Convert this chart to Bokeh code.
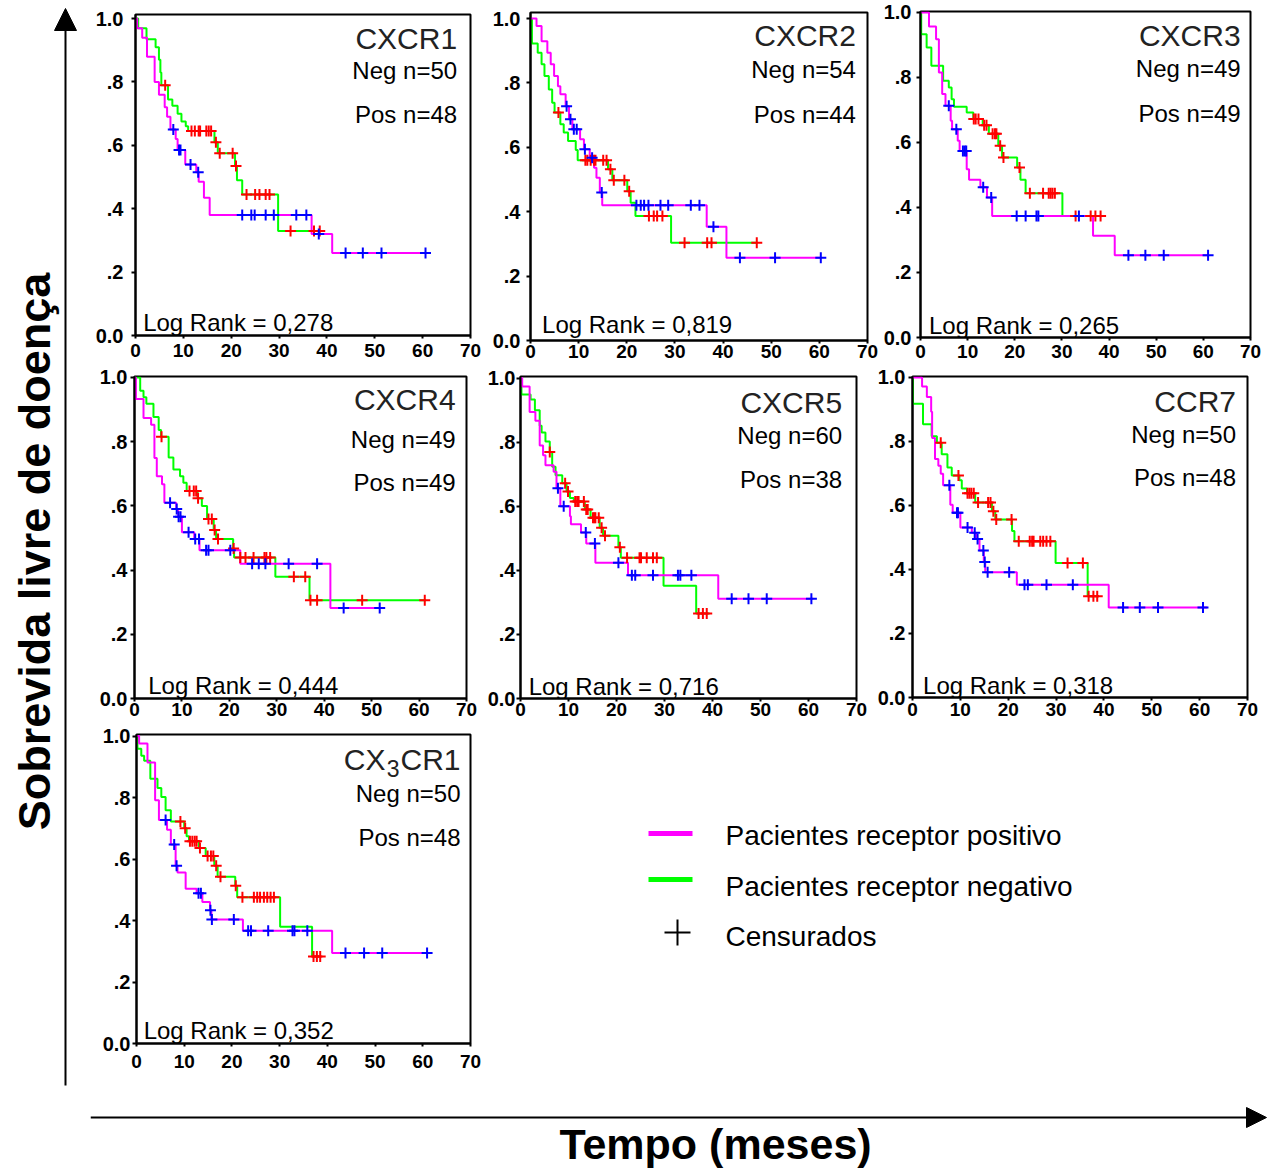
import numpy as np
from bokeh.plotting import figure
from bokeh.layouts import row, column
from bokeh.models import Range1d, FixedTicker, Label, Arrow, NormalHead
from bokeh.embed import file_html
from bokeh.resources import INLINE

# ---------------- data ----------------
panel_names = ["CXCR1", "CXCR2", "CXCR3", "CXCR4", "CXCR5", "CCR7", "CX3CR1"]
neg_n = [50, 54, 49, 49, 60, 50, 50]
pos_n = [48, 44, 49, 49, 38, 48, 48]
log_rank = ["0,278", "0,819", "0,265", "0,444", "0,716", "0,318", "0,352"]
x_ticks = [0, 10, 20, 30, 40, 50, 60, 70]
y_ticks = [0, 0.2, 0.4, 0.6, 0.8, 1.0]
y_tick_labels = ["0.0", ".2", ".4", ".6", ".8", "1.0"]
legend_labels = ["Pacientes receptor positivo", "Pacientes receptor negativo", "Censurados"]

# CXCR1
cxcr1_pos_t = [0, 0.35, 1.4, 2.4, 4.0, 4.9, 6.1, 6.6, 7.3, 8.4, 8.8, 10.4, 12.7, 13.2, 14.3, 15.5, 36.8, 41.1, 60.6]
cxcr1_pos_s = [1, 0.97, 0.94, 0.88, 0.80, 0.76, 0.72, 0.69, 0.65, 0.62, 0.585, 0.54, 0.515, 0.485, 0.435, 0.38, 0.32, 0.26, 0.26]
cxcr1_pos_c = [7.9, 9.1, 9.4, 11.5, 13.1, 22.3, 24.2, 24.9, 27.2, 28.9, 33.6, 35.7, 38.3, 43.9, 47.5, 51.4, 60.6]
cxcr1_neg_t = [0, 0.56, 2.3, 4.2, 4.9, 5.2, 5.4, 6.8, 7.7, 8.8, 9.6, 10.5, 11.0, 16.5, 17.2, 20.8, 21.2, 22.3, 29.8, 38.5]
cxcr1_neg_s = [1, 0.97, 0.935, 0.91, 0.87, 0.83, 0.79, 0.745, 0.725, 0.70, 0.675, 0.66, 0.645, 0.61, 0.575, 0.535, 0.49, 0.445, 0.33, 0.33]
cxcr1_neg_c = [6.2, 11.7, 12.4, 13.2, 13.5, 14.8, 15.3, 15.8, 16.8, 17.6, 20.3, 21.0, 23.2, 25.0, 25.9, 27.2, 28.0, 32.4, 37.3, 38.5]

# CXCR2
cxcr2_pos_t = [0, 1.25, 2.3, 3.5, 4.2, 4.9, 5.7, 6.2, 7.3, 8.0, 8.7, 10.3, 11.1, 12.3, 13.2, 13.7, 14.4, 14.9, 36.6, 40.7, 60.3]
cxcr2_pos_s = [1, 0.977, 0.93, 0.894, 0.858, 0.822, 0.79, 0.765, 0.728, 0.687, 0.656, 0.625, 0.594, 0.568, 0.537, 0.506, 0.46, 0.42, 0.353, 0.257, 0.257]
cxcr2_pos_c = [7.5, 8.3, 9.0, 9.6, 11.3, 12.8, 14.8, 22.0, 22.9, 23.6, 24.5, 27.0, 28.6, 33.3, 35.1, 38.0, 43.5, 50.8, 60.3]
cxcr2_neg_t = [0, 0.3, 1.5, 2.3, 2.9, 3.8, 4.5, 5.0, 6.2, 6.9, 7.8, 9.4, 9.8, 16.1, 17.0, 20.1, 20.8, 21.8, 29.2, 47.1]
cxcr2_neg_s = [1, 0.923, 0.894, 0.858, 0.822, 0.78, 0.739, 0.708, 0.672, 0.646, 0.62, 0.592, 0.56, 0.532, 0.498, 0.464, 0.428, 0.387, 0.304, 0.304]
cxcr2_neg_c = [5.8, 11.4, 11.8, 12.5, 13.2, 13.5, 15.1, 15.8, 16.6, 17.3, 19.5, 20.5, 24.6, 25.6, 26.3, 27.4, 32.0, 36.7, 37.6, 47.0]

# CXCR3
cxcr3_pos_t = [0, 1.8, 3.3, 3.9, 4.6, 5.3, 6.4, 6.7, 7.9, 8.3, 9.8, 10.3, 12.7, 14.1, 15.2, 36.6, 41.2, 61.2]
cxcr3_pos_s = [1, 0.957, 0.918, 0.815, 0.749, 0.713, 0.667, 0.641, 0.605, 0.574, 0.518, 0.485, 0.462, 0.431, 0.374, 0.313, 0.253, 0.253]
cxcr3_pos_c = [6.0, 7.6, 9.0, 9.4, 9.7, 13.3, 15.0, 20.4, 22.3, 24.6, 25.0, 33.6, 44.1, 47.7, 51.6, 61.0]
cxcr3_neg_t = [0, 0.15, 1.3, 2.3, 4.8, 6.0, 6.6, 7.1, 9.8, 11.2, 13.2, 14.5, 16.5, 17.3, 20.5, 21.2, 22.3, 30.1, 39.3]
cxcr3_neg_s = [1, 0.933, 0.892, 0.836, 0.79, 0.769, 0.733, 0.71, 0.692, 0.672, 0.653, 0.627, 0.59, 0.554, 0.523, 0.485, 0.444, 0.374, 0.374]
cxcr3_neg_c = [11.3, 11.7, 12.3, 13.5, 14.0, 15.3, 15.8, 16.1, 16.9, 17.6, 21.0, 23.2, 26.0, 27.2, 27.6, 28.0, 28.5, 32.9, 36.1, 37.1, 38.2]

# CXCR4
cxcr4_pos_t = [0, 0.3, 1.9, 3.5, 4.2, 4.7, 5.8, 6.3, 8.8, 9.2, 10.0, 12.6, 13.7, 22.3, 41.3, 51.9]
cxcr4_pos_s = [1, 0.933, 0.874, 0.853, 0.749, 0.692, 0.667, 0.61, 0.59, 0.566, 0.518, 0.497, 0.462, 0.42, 0.282, 0.282]
cxcr4_pos_c = [7.5, 8.9, 9.3, 9.7, 11.4, 12.8, 13.6, 15.1, 15.6, 20.2, 24.8, 26.2, 27.6, 32.5, 38.5, 44.1, 51.7]
cxcr4_neg_t = [0, 1.2, 1.9, 2.5, 4.0, 5.1, 5.6, 7.2, 8.2, 9.6, 10.3, 11.0, 13.3, 14.2, 15.3, 16.7, 17.2, 20.8, 21.0, 29.7, 36.9, 61.4]
cxcr4_neg_s = [1, 0.959, 0.938, 0.918, 0.877, 0.836, 0.815, 0.751, 0.713, 0.692, 0.672, 0.646, 0.624, 0.6, 0.559, 0.525, 0.497, 0.467, 0.439, 0.379, 0.306, 0.306]
cxcr4_neg_c = [5.7, 11.6, 12.5, 13.0, 13.4, 15.6, 16.3, 16.9, 17.6, 20.9, 22.3, 23.4, 25.1, 27.4, 27.8, 28.6, 33.6, 36.0, 37.1, 38.5, 48.0, 61.2]

# CXCR5
cxcr5_pos_t = [0, 0.35, 1.9, 3.1, 4.0, 4.7, 5.2, 6.9, 7.5, 8.3, 10.3, 10.5, 12.6, 13.7, 15.6, 22.4, 41.2, 61.0]
cxcr5_pos_s = [1, 0.974, 0.894, 0.867, 0.79, 0.759, 0.728, 0.708, 0.656, 0.6, 0.569, 0.544, 0.518, 0.484, 0.424, 0.385, 0.311, 0.311]
cxcr5_pos_c = [7.8, 9.0, 13.6, 15.5, 20.4, 23.2, 23.9, 27.6, 32.8, 33.3, 35.6, 44.0, 47.5, 51.3, 60.6]
cxcr5_neg_t = [0, 0.2, 2.1, 3.0, 4.0, 4.4, 5.2, 6.1, 6.6, 7.3, 8.7, 9.6, 10.3, 11.1, 13.4, 14.6, 16.5, 17.2, 20.4, 20.9, 29.8, 36.6, 39.4]
cxcr5_neg_s = [1, 0.949, 0.933, 0.9, 0.851, 0.83, 0.802, 0.769, 0.723, 0.697, 0.672, 0.646, 0.626, 0.615, 0.59, 0.564, 0.533, 0.508, 0.472, 0.439, 0.352, 0.265, 0.265]
cxcr5_neg_c = [6.1, 9.3, 9.9, 11.4, 11.8, 12.1, 13.2, 13.7, 14.0, 15.1, 15.4, 15.6, 16.3, 16.9, 17.6, 20.7, 22.2, 24.8, 25.1, 26.3, 27.6, 28.4, 37.1, 38.0, 38.8]

# CCR7
ccr7_pos_t = [0, 2.0, 3.0, 3.9, 4.1, 4.7, 5.4, 5.9, 6.4, 7.9, 8.4, 10.0, 12.4, 13.3, 14.0, 14.9, 15.2, 21.8, 41.0, 61.6]
ccr7_pos_s = [1, 0.972, 0.939, 0.893, 0.811, 0.745, 0.724, 0.699, 0.663, 0.602, 0.577, 0.531, 0.515, 0.495, 0.459, 0.423, 0.391, 0.352, 0.281, 0.281]
ccr7_pos_c = [7.7, 9.3, 9.5, 11.5, 13.0, 13.6, 14.8, 15.1, 15.7, 20.2, 23.4, 24.1, 28.0, 33.5, 44.0, 47.5, 51.3, 60.7]
ccr7_neg_t = [0, 0.1, 2.2, 4.0, 5.1, 6.1, 7.3, 8.2, 9.8, 10.3, 11.4, 13.1, 16.6, 17.3, 20.8, 21.3, 29.9, 36.6, 38.9]
ccr7_neg_s = [1, 0.918, 0.854, 0.816, 0.796, 0.76, 0.719, 0.694, 0.679, 0.653, 0.638, 0.609, 0.582, 0.556, 0.52, 0.488, 0.42, 0.316, 0.316]
ccr7_neg_c = [5.9, 9.6, 11.5, 11.9, 12.3, 12.8, 13.7, 15.8, 16.3, 16.9, 17.5, 20.7, 22.2, 24.5, 25.0, 25.3, 26.7, 27.3, 28.0, 28.8, 32.4, 35.6, 36.8, 37.8, 38.6]

# CX3CR1
cx3cr1_pos_t = [0, 0.55, 2.3, 3.9, 4.7, 6.4, 7.2, 8.2, 8.6, 10.3, 12.6, 13.8, 15.4, 15.7, 22.3, 41.0, 60.9]
cx3cr1_pos_s = [1, 0.976, 0.914, 0.791, 0.727, 0.695, 0.647, 0.578, 0.556, 0.503, 0.489, 0.46, 0.433, 0.403, 0.367, 0.294, 0.294]
cx3cr1_pos_c = [6.1, 7.9, 8.4, 13.0, 13.5, 15.5, 15.8, 20.4, 23.4, 24.0, 27.6, 32.7, 33.1, 35.8, 43.8, 47.7, 51.5, 60.9]
cx3cr1_neg_t = [0, 0.2, 1.0, 1.6, 2.9, 4.4, 5.2, 6.1, 7.2, 10.0, 10.5, 11.0, 13.1, 14.5, 16.3, 17.0, 20.7, 21.1, 30.1, 36.8, 38.6]
cx3cr1_neg_s = [1, 0.959, 0.936, 0.92, 0.861, 0.831, 0.802, 0.759, 0.722, 0.70, 0.674, 0.658, 0.636, 0.61, 0.578, 0.542, 0.513, 0.476, 0.38, 0.283, 0.283]
cx3cr1_neg_c = [9.2, 10.2, 11.2, 11.7, 12.2, 12.6, 13.3, 14.9, 15.6, 16.1, 16.7, 17.6, 20.8, 22.2, 24.6, 25.3, 25.9, 26.7, 27.4, 28.1, 28.8, 37.1, 37.8, 38.5]

curves = [
    (cxcr1_pos_t, cxcr1_pos_s, cxcr1_pos_c, cxcr1_neg_t, cxcr1_neg_s, cxcr1_neg_c),
    (cxcr2_pos_t, cxcr2_pos_s, cxcr2_pos_c, cxcr2_neg_t, cxcr2_neg_s, cxcr2_neg_c),
    (cxcr3_pos_t, cxcr3_pos_s, cxcr3_pos_c, cxcr3_neg_t, cxcr3_neg_s, cxcr3_neg_c),
    (cxcr4_pos_t, cxcr4_pos_s, cxcr4_pos_c, cxcr4_neg_t, cxcr4_neg_s, cxcr4_neg_c),
    (cxcr5_pos_t, cxcr5_pos_s, cxcr5_pos_c, cxcr5_neg_t, cxcr5_neg_s, cxcr5_neg_c),
    (ccr7_pos_t, ccr7_pos_s, ccr7_pos_c, ccr7_neg_t, ccr7_neg_s, ccr7_neg_c),
    (cx3cr1_pos_t, cx3cr1_pos_s, cx3cr1_pos_c, cx3cr1_neg_t, cx3cr1_neg_s, cx3cr1_neg_c),
]

# ---------------- layout / style ----------------
FONT = "Liberation Sans"
MAG, GRN, BLU, RED = "#FF00FF", "#00FF00", "#0000FF", "#FF0000"

# width, height, border l, r, t, b, y_top, title_x, title_y, neg_y, pos_y, lr_x, lr_y,
# x-label standoff, y-label standoff
LAYOUT = [
    (395, 365, 45, 15, 14, 30, 1.013, 67.2, 0.937, 0.837, 0.697, 1.6, 0.042, 5, 8),
    (393, 365, 45, 11, 12, 25, 1.019, 67.6, 0.946, 0.843, 0.703, 2.4, 0.050, 1, 6),
    (405, 365, 42, 33, 11, 28, 1.003, 67.9, 0.928, 0.828, 0.690, 1.8, 0.036, 4, 5),
    (392, 358, 44, 16, 11, 25, 1.003, 67.7, 0.931, 0.808, 0.672, 2.9, 0.041, 1, 3),
    (389, 358, 38, 15, 11, 25, 1.005, 67.0, 0.923, 0.820, 0.682, 1.7, 0.036, 1, 1),
    (412, 358, 41, 36, 11, 26, 1.003, 67.6, 0.926, 0.823, 0.687, 2.2, 0.036, 2, 3),
    (400, 372, 46, 20, 11, 52, 1.005, 67.9, 0.925, 0.812, 0.670, 1.5, 0.043, 8, 2),
]


def value_at(t, s, c):
    t = np.asarray(t, float)
    s = np.asarray(s, float)
    i = np.searchsorted(t, np.asarray(c, float), side="right") - 1
    return s[np.clip(i, 0, len(s) - 1)]


def blank(width, height, xr, yr):
    f = figure(width=width, height=height, x_range=Range1d(*xr), y_range=Range1d(*yr),
               output_backend="svg", toolbar_location=None, title=None,
               x_axis_location=None, y_axis_location=None, min_border=0,
               outline_line_color=None, background_fill_color="white",
               border_fill_color="white", frame_align=False)
    f.grid.visible = False
    return f


def txt(x, y, text, size, align="left", style="normal", color="black", **kw):
    return Label(x=x, y=y, text=text, text_align=align, text_baseline="middle",
                 text_font=FONT, text_font_size=size, text_font_style=style,
                 text_color=color, **kw)


def panel(k):
    (w, h, bl, br, bt, bb, ytop, tx, ty, ny, py, lx, ly, xso, yso) = LAYOUT[k]
    pt, ps, pc, nt, ns, nc = curves[k]
    p = figure(width=w, height=h, x_range=Range1d(0, 70), y_range=Range1d(0, ytop),
               output_backend="svg", toolbar_location=None, title=None,
               min_border_left=bl, min_border_right=br, min_border_top=bt,
               min_border_bottom=bb, background_fill_color="white",
               border_fill_color="white", outline_line_color="black",
               outline_line_width=2, frame_align=False)
    p.grid.visible = False
    xa, ya = p.xaxis[0], p.yaxis[0]
    xa.ticker = FixedTicker(ticks=x_ticks)
    ya.ticker = FixedTicker(ticks=y_ticks)
    ya.major_label_overrides = {v: l for v, l in zip(y_ticks, y_tick_labels)}
    for ax in (xa, ya):
        ax.axis_line_width = 2
        ax.axis_line_color = "black"
        ax.major_tick_in = 0
        ax.major_tick_line_width = 2
        ax.minor_tick_line_color = None
        ax.major_label_text_font = FONT
        ax.major_label_text_font_style = "bold"
        ax.major_label_text_color = "black"
    xa.major_tick_out = 3
    ya.major_tick_out = 4
    xa.major_label_text_font_size = "19px"
    ya.major_label_text_font_size = "20px"
    xa.major_label_standoff = xso
    ya.major_label_standoff = yso

    p.step(nt, ns, mode="after", line_color=GRN, line_width=2)
    p.step(pt, ps, mode="after", line_color=MAG, line_width=2)
    p.scatter(nc, value_at(nt, ns, nc), marker="cross", size=11, line_width=2,
              line_color=RED)
    p.scatter(pc, value_at(pt, ps, pc), marker="cross", size=11, line_width=2,
              line_color=BLU)

    name = panel_names[k]
    if name == "CX3CR1":
        p.add_layout(txt(tx, ty, "CR1", "30px", align="right", color="#222222"))
        p.add_layout(txt(tx, ty, "3", "23px", align="right", color="#222222",
                         x_offset=-61, y_offset=-9))
        p.add_layout(txt(tx, ty, "CX", "30px", align="right", color="#222222",
                         x_offset=-75))
    else:
        p.add_layout(txt(tx, ty, name, "30px", align="right", color="#222222"))
    p.add_layout(txt(tx, ny, f"Neg n={neg_n[k]}", "24px", align="right"))
    p.add_layout(txt(tx, py, f"Pos n={pos_n[k]}", "24px", align="right"))
    p.add_layout(txt(lx, ly, f"Log Rank = {log_rank[k]}", "24px", align="left"))
    return p


panels = [panel(k) for k in range(7)]

# legend area (page-pixel coordinates)
leg = blank(793, 372, (490, 1283), (1095, 723))
leg.line([648, 692], [833, 833], line_color=MAG, line_width=5)
leg.line([648, 692], [879, 879], line_color=GRN, line_width=5)
leg.scatter([677], [932], marker="cross", size=26, line_width=2, line_color="black")
for t_, yy in zip(legend_labels, [835, 886, 936]):
    leg.add_layout(txt(725, yy, t_, "28px"))

# left strip: vertical arrow + label
left = blank(90, 1171, (0, 90), (1171, 0))
left.add_layout(Arrow(end=NormalHead(size=22, fill_color="black", line_color="black"),
                      x_start=65, y_start=1085, x_end=65, y_end=8,
                      line_color="black", line_width=2))
left.add_layout(txt(34, 551, "Sobrevida livre de doença", "45px", align="center",
                    style="bold", angle=np.pi / 2))

# bottom strip: horizontal arrow + label
bottom = blank(1193, 76, (90, 1283), (1171, 1095))
bottom.add_layout(Arrow(end=NormalHead(size=20, fill_color="black", line_color="black"),
                        x_start=90, y_start=1117, x_end=1266, y_end=1117,
                        line_color="black", line_width=2))
bottom.add_layout(txt(715, 1143, "Tempo (meses)", "43px", align="center", style="bold"))

grid = column(row(panels[0], panels[1], panels[2]),
              row(panels[3], panels[4], panels[5]),
              row(panels[6], leg),
              bottom)
page = row(left, grid)

open("out.html", "w").write(file_html(page, INLINE))
